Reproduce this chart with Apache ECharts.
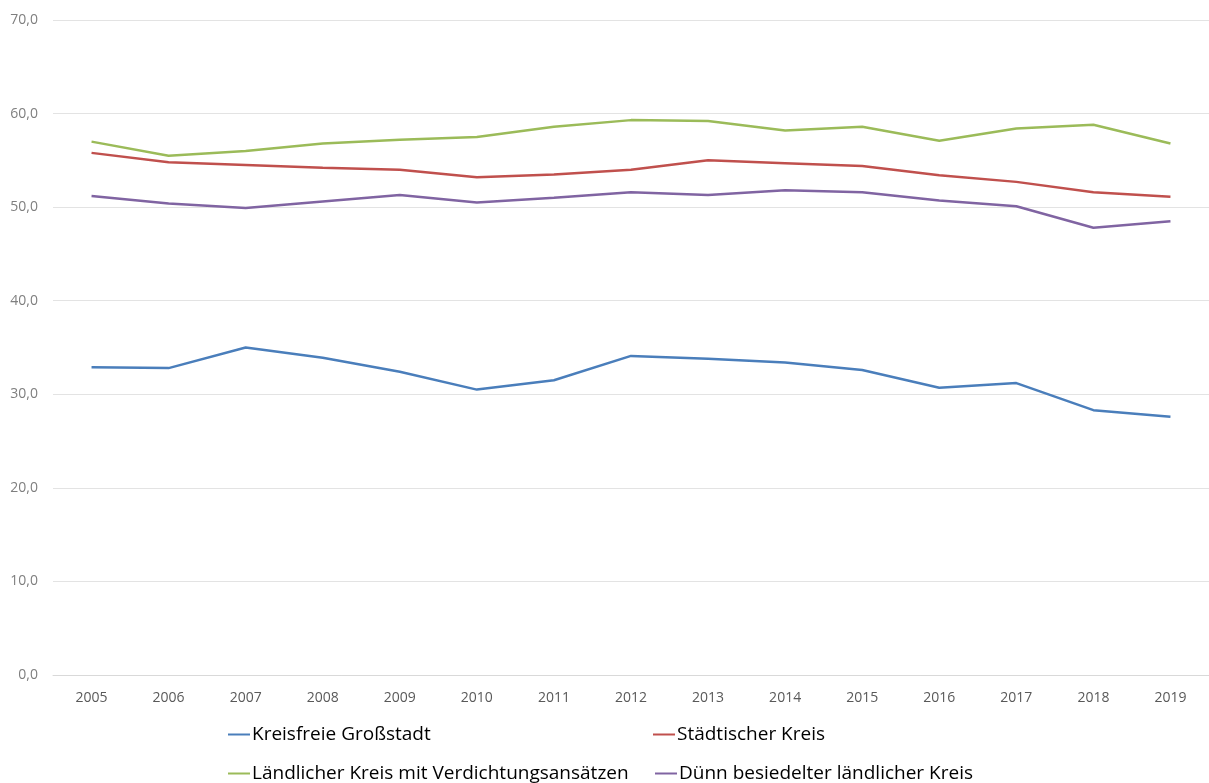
<!DOCTYPE html>
<html>
<head>
<meta charset="utf-8">
<script src="https://cdn.jsdelivr.net/npm/echarts@6/dist/echarts.min.js"></script>
<style>
  html, body { margin: 0; padding: 0; background: #ffffff; }
  #chart { width: 1209px; height: 783px; }
</style>
</head>
<body>
<div id="chart"></div>
<script>
// Jahre der x-Achse
const years = ['2005', '2006', '2007', '2008', '2009', '2010', '2011', '2012',
               '2013', '2014', '2015', '2016', '2017', '2018', '2019'];

// Siedlungsstruktureller Kreistyp – Werte je Jahr
const kreisfreieGrossstadt = [32.9, 32.8, 35.0, 33.9, 32.4, 30.5, 31.5, 34.1,
                              33.8, 33.4, 32.6, 30.7, 31.2, 28.3, 27.6];
const staedtischerKreis = [55.8, 54.8, 54.5, 54.2, 54.0, 53.2, 53.5, 54.0,
                           55.0, 54.7, 54.4, 53.4, 52.7, 51.6, 51.1];
const laendlicherVerdichtung = [57.0, 55.5, 56.0, 56.8, 57.2, 57.5, 58.6, 59.3,
                                59.2, 58.2, 58.6, 57.1, 58.4, 58.8, 56.8];
const duennBesiedelt = [51.2, 50.4, 49.9, 50.6, 51.3, 50.5, 51.0, 51.6,
                        51.3, 51.8, 51.6, 50.7, 50.1, 47.8, 48.5];

const seriesNames = [
  'Kreisfreie Großstadt',
  'Städtischer Kreis',
  'Ländlicher Kreis mit Verdichtungsansätzen',
  'Dünn besiedelter ländlicher Kreis'
];
const colors = ['#4a7ebb', '#c0504d', '#9bbb59', '#8064a2'];
const yTicks = { min: 0, max: 70, step: 10 };

const font = '"Open Sans", sans-serif';

function line(name, data, color) {
  return {
    name: name,
    type: 'line',
    data: data,
    symbol: 'none',
    smooth: false,
    lineStyle: { color: color, width: 2.5 },
    itemStyle: { color: color },
    emphasis: { disabled: true }
  };
}

// one legend entry, placed in a 2 x 2 block under the axis
function legendItem(name, left, top) {
  return {
    data: [name],
    left: left,
    top: top,
    padding: 0,
    icon: 'rect',
    itemWidth: 22,
    itemHeight: 2,
    selectedMode: false,
    textStyle: {
      fontFamily: font,
      fontSize: 19,
      color: '#000000',
      padding: [0, 0, 0, -3]
    }
  };
}

const chart = echarts.init(document.getElementById('chart'), null, { renderer: 'canvas' });
chart.setOption({
  animation: false,
  color: colors,
  grid: { left: 53, top: 20, width: 1158, height: 655, containLabel: false },
  legend: [
    legendItem(seriesNames[0], 228, 725),
    legendItem(seriesNames[1], 653, 725),
    legendItem(seriesNames[2], 228, 764),
    legendItem(seriesNames[3], 655, 764)
  ],
  xAxis: {
    type: 'category',
    data: years,
    boundaryGap: true,
    axisLine: { show: true, lineStyle: { color: '#d9d9d9', width: 1 } },
    axisTick: { show: false },
    axisLabel: { color: '#595959', fontFamily: font, fontSize: 14, margin: 16 }
  },
  yAxis: {
    type: 'value',
    min: yTicks.min,
    max: yTicks.max,
    interval: yTicks.step,
    axisLine: { show: false },
    axisTick: { show: false },
    splitLine: { lineStyle: { color: '#e3e3e3', width: 1 } },
    axisLabel: {
      color: '#7f7f7f',
      fontFamily: font,
      fontSize: 14,
      margin: 15,
      formatter: function (v) { return v.toFixed(1).replace('.', ','); }
    }
  },
  series: [
    line(seriesNames[0], kreisfreieGrossstadt, colors[0]),
    line(seriesNames[1], staedtischerKreis, colors[1]),
    line(seriesNames[2], laendlicherVerdichtung, colors[2]),
    line(seriesNames[3], duennBesiedelt, colors[3])
  ]
});
</script>
</body>
</html>
